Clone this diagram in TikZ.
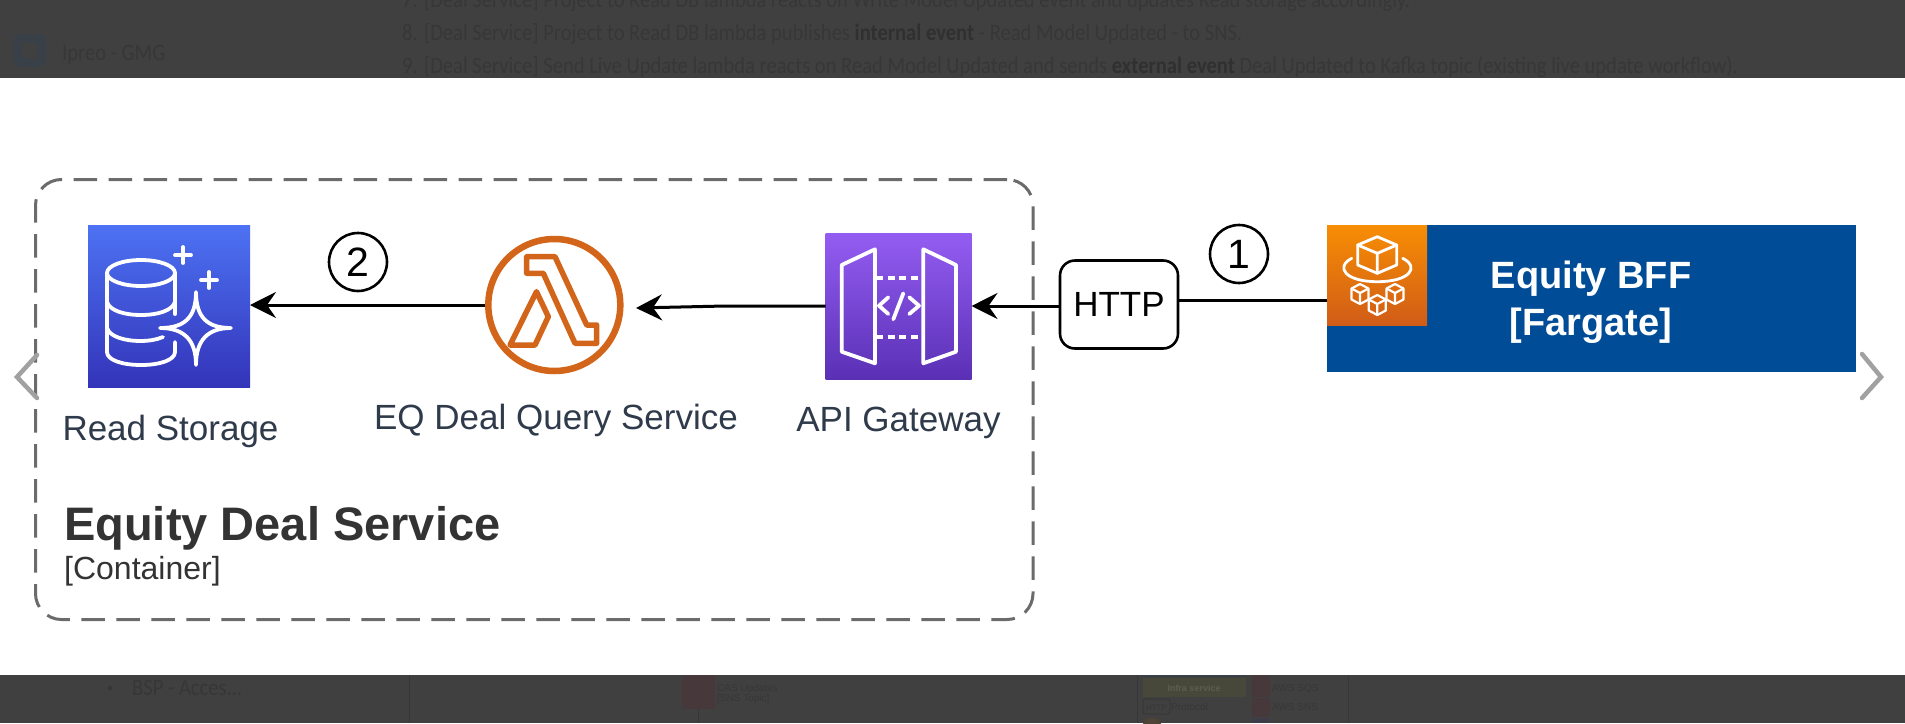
\documentclass[tikz,border=0pt]{standalone}
\usepackage{fontspec}
\setmainfont{Liberation Sans}
\newfontfamily\pagefont[FakeStretch=0.875]{Carlito}
\usetikzlibrary{arrows.meta}
\definecolor{veil}{HTML}{404040}
\definecolor{veiltext}{HTML}{373737}
\definecolor{veilbold}{HTML}{303030}
\definecolor{labelink}{HTML}{2F3B4B}
\definecolor{titleink}{HTML}{333333}
\definecolor{lambdaorange}{HTML}{D2651A}
\definecolor{bffblue}{HTML}{004C97}
\definecolor{dimblue}{HTML}{3A4048}
\definecolor{dimpink}{HTML}{46383B}
\definecolor{dimolive}{HTML}{48483A}
\definecolor{dimpurple}{HTML}{3F3C4A}
\definecolor{dimorange}{HTML}{4F4436}
\definecolor{diminfra}{HTML}{5C5C50}
\definecolor{storagetop}{HTML}{4D72F3}
\definecolor{storagebot}{HTML}{3334B9}
\definecolor{apitop}{HTML}{945DF2}
\definecolor{apibot}{HTML}{5A30B5}
\definecolor{fargatetop}{HTML}{F78E04}
\definecolor{fargatebot}{HTML}{D05C17}
\tikzset{
  x=1pt,y=-1pt,
  icon/.style={draw=none,minimum width=#1,minimum height=#1,inner sep=0pt,outer sep=0pt},
  wire/.style={draw=black,line width=3pt},
  flow/.style={wire,-{Stealth[length=26pt,width=26pt,inset=9pt]}},
  glyph/.style={draw=white,line width=3.8pt,line join=round,line cap=round},
  smallglyph/.style={draw=white,line width=2.2pt,line join=round},
  chevron/.style={draw=black!37,line width=4.5pt,line cap=round,line join=miter},
  iconlabel/.style={text=labelink,font=\fontsize{35}{40}\selectfont,inner sep=0pt,anchor=base},
  badge/.style={draw=black,line width=2.6pt,circle,minimum size=58pt,inner sep=0pt,font=\fontsize{41}{41}\selectfont},
  backtext/.style={text=veiltext,anchor=base west,inner sep=0pt,font=\pagefont\fontsize{23.5}{26}\selectfont},
  tinytext/.style={text=veiltext,anchor=base west,inner sep=0pt,font=\fontsize{10}{11}\selectfont}
}
\newcommand{\tinycube}[2]{%
  \begin{scope}[shift={(#1,#2)}]
    \draw[smallglyph] (0,-10) -- (8.5,-5.5) -- (8.5,5.5) -- (0,10) -- (-8.5,5.5) -- (-8.5,-5.5) -- cycle;
    \draw[smallglyph] (-8.5,-5.5) -- (0,-1) -- (8.5,-5.5) (0,-1) -- (0,10);
  \end{scope}}
\begin{document}
\begin{tikzpicture}
\useasboundingbox (0,0) rectangle (1905,723);
% dimmed page behind the pop-up
\fill[veil] (0,0) rectangle (1905,723);
\fill[white] (0,78) rectangle (1905,675);
\begin{scope}
\clip (0,0) rectangle (1905,78);
\fill[dimblue,rounded corners=6pt] (13,34) rectangle (46,67);
\fill[veil] (22,43) rectangle (37,58);
\node[backtext] (workspace) at (62,60) {Ipreo - GMG};
\node[backtext] (line7) at (402,7) {7. [Deal Service] Project to Read DB lambda reacts on Write Model Updated event and updates Read storage accordingly.};
\node[backtext] (line8) at (402,40) {8. [Deal Service] Project to Read DB lambda publishes \textcolor{veilbold}{\bfseries internal event} - Read Model Updated - to SNS.};
\node[backtext] (line9) at (402,73) {9. [Deal Service] Send Live Update lambda reacts on Read Model Updated and sends \textcolor{veilbold}{\bfseries external event} Deal Updated to Kafka topic (existing live update workflow).};
\end{scope}
\begin{scope}
\clip (0,675) rectangle (1905,723);
\fill[veiltext] (110,688) circle (2.5);
\node[backtext] (bsp) at (132,695) {BSP - Acces...};
\draw[veiltext,line width=1pt] (409,675) -- (409,723);
\draw[veiltext,line width=1pt] (1137,675) -- (1137,723);
\draw[veiltext,line width=1pt] (1348,675) -- (1348,723);
\fill[dimpink] (682,675) rectangle (715,709);
\draw[veiltext,line width=1pt] (698,709) -- (698,723);
\node[tinytext] (cas) at (717,691) {CAS Updates};
\node[tinytext] (snstopic) at (717,701) {[SNS Topic]};
\fill[dimblue] (1143,675) rectangle (1246,677);
\fill[dimolive] (1143,678) rectangle (1246,697);
\node[tinytext,anchor=base,font=\fontsize{9}{10}\selectfont\bfseries,text=diminfra] (infra) at (1194,691) {Infra service};
\draw[veiltext,line width=1pt,rounded corners=2pt] (1143,699) rectangle (1170,714);
\node[tinytext,anchor=base,font=\fontsize{8}{9}\selectfont] (protocolbox) at (1156.5,710) {HTTP};
\node[tinytext] (protocol) at (1171,710) {Protocol};
\fill[dimorange] (1152,728) circle (10);
\fill[dimpink] (1252,675) rectangle (1270,697);
\fill[dimpink] (1252,698) rectangle (1270,717);
\fill[dimpurple] (1252,718) rectangle (1270,723);
\node[tinytext] (sqs) at (1272,691) {AWS SQS};
\node[tinytext] (sns) at (1272,710) {AWS SNS};
\end{scope}
% container
\node[draw=black!58,line width=3pt,dash pattern=on 23.5pt off 11.5pt,rounded corners=26pt,minimum width=997.5pt,minimum height=440pt,inner sep=0pt] (container) at (534.25,399.5) {};
\node[anchor=base west,inner sep=0pt,text=titleink,font=\fontsize{47}{50}\selectfont\bfseries] (title) at (64,540) {Equity Deal Service};
\node[anchor=base west,inner sep=0pt,text=titleink,font=\fontsize{32}{34}\selectfont] (kind) at (64,579) {[Container]};
% read storage
\node[icon=162pt,top color=storagetop,bottom color=storagebot] (storage) at (169,306) {};
\draw[glyph] (141,273) ellipse (34 and 13);
\draw[glyph] (107,273) -- (107,352) .. controls (107,360) and (122,365) .. (141,365) .. controls (160,365) and (175,360) .. (175,352) -- (175,342);
\draw[glyph] (175,273) -- (175,314);
\draw[glyph] (107,302) .. controls (110,311) and (125,315) .. (141,315) .. controls (157,315) and (172,311) .. (175,302);
\draw[glyph] (107,328) .. controls (110,337) and (125,341) .. (141,341) .. controls (148,341) and (156,340) .. (163,337);
\draw[glyph] (231,328) .. controls (208,328) and (196,318) .. (196,292) .. controls (196,318) and (184,328) .. (160,328) .. controls (184,328) and (196,340) .. (196,365) .. controls (196,340) and (208,328) .. (231,328) -- cycle;
\draw[glyph] (175,255) -- (191,255) (183,247) -- (183,263);
\draw[glyph] (201,280) -- (217,280) (209,272) -- (209,288);
\node[iconlabel] (storagelabel) at (170.5,440) {Read Storage};
% lambda
\node[draw=lambdaorange,line width=6.5pt,circle,minimum size=132pt,inner sep=0pt,outer sep=3.25pt] (lambda) at (554.3,305) {};
\draw[lambdaorange,line width=5.5pt,line join=round] (526.7,256.7) -- (526.7,273.3) -- (543.3,273.3) -- (575,343.3) -- (596.7,343.3) -- (596.7,325) -- (586.7,325) -- (555,256.7) -- cycle;
\draw[lambdaorange,line width=5.5pt,line join=round] (536.5,291.7) -- (548.3,316.7) -- (535,345) -- (510,345) -- cycle;
\node[iconlabel] (lambdalabel) at (556,429) {EQ Deal Query Service};
% api gateway
\node[icon=146pt,top color=apitop,bottom color=apibot] (api) at (898.5,306) {};
\draw[glyph] (841.7,265) -- (875,249.3) -- (875,363.3) -- (841.7,351.7) -- cycle;
\draw[glyph] (923.3,249.3) -- (956,265) -- (956,351.7) -- (923.3,363.3) -- cycle;
\draw[draw=white,line width=3.8pt,dash pattern=on 7pt off 4.5pt] (876,277.7) -- (923,277.7);
\draw[draw=white,line width=3.8pt,dash pattern=on 7pt off 4.5pt] (876,336.7) -- (923,336.7);
\draw[glyph] (888.3,297.3) -- (879,305.7) -- (888.3,314);
\draw[glyph] (909.3,297.3) -- (919,305.7) -- (909.3,314);
\draw[glyph] (903.3,293.3) -- (893.3,319.3);
\node[iconlabel] (apilabel) at (898.5,431) {API Gateway};
% http
\node[draw=black,line width=2.6pt,fill=white,rounded corners=15pt,minimum width=118pt,minimum height=88pt,inner sep=0pt,font=\fontsize{35}{40}\selectfont] (http) at (1119,304.5) {HTTP};
% bff
\node[draw=none,fill=bffblue,minimum width=529pt,minimum height=147pt,inner sep=0pt,outer sep=0pt] (bff) at (1591.5,298.5) {};
\node[icon=100pt,top color=fargatetop,bottom color=fargatebot] (fargate) at (1377,275) {};
\draw[glyph,line width=2.8pt] (1377.3,236.7) -- (1396.7,245) -- (1396.7,265) -- (1377.3,273.3) -- (1357.7,265) -- (1357.7,245) -- cycle;
\draw[glyph,line width=2.8pt] (1357.7,245) -- (1377.3,253.3) -- (1396.7,245) (1377.3,253.3) -- (1377.3,273.3);
\draw[glyph,line width=2.8pt] (1351.7,258.3) .. controls (1335,267) and (1345,281.7) .. (1377.3,281.7) .. controls (1410,281.7) and (1420,267) .. (1402.7,258.3);
\tinycube{1360}{294}
\tinycube{1395}{294}
\tinycube{1377.3}{305}
\node[anchor=base,inner sep=0pt,text=white,font=\fontsize{38}{40}\selectfont\bfseries] (bffname) at (1591,288) {Equity BFF};
\node[anchor=base,inner sep=0pt,text=white,font=\fontsize{38}{40}\selectfont\bfseries] (bffkind) at (1591,335) {[Fargate]};
% badges
\node[badge] (one) at (1239,254) {1};
\node[badge] (two) at (358,262) {2};
% connectors
\coordinate (bffport) at (1327,300);
\coordinate (apibend) at (725,306);
\coordinate (lambdaport) at (636,308);
\draw[wire] (bffport) -- (bffport -| http.east);
\draw[flow] (api.east -| http.west) -- (api.east);
\draw[flow] (api.west) -- (apibend) -- (lambdaport);
\draw[flow] (lambda.west) -- (lambda.west -| storage.east);
% carousel chevrons
\draw[chevron] (37,355) -- (17,377) -- (37,398);
\draw[chevron] (1862,354) -- (1881,377) -- (1862,398);
\end{tikzpicture}
\end{document}
